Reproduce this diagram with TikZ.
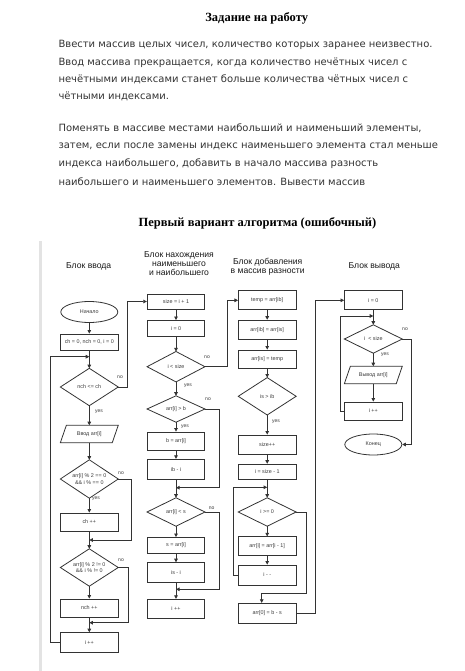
\documentclass[tikz,border=0pt]{standalone}
\usepackage{fontspec}
\setmainfont{Liberation Serif}
\newfontfamily\bodyfont{DejaVu Sans}
\newfontfamily\chartfont{Liberation Sans}
\usetikzlibrary{shapes.geometric,arrows.meta}
\definecolor{ink}{HTML}{333333}
\definecolor{txt}{HTML}{3A3A3A}
\definecolor{quote}{HTML}{E3E3E3}
\begin{document}
\begin{tikzpicture}[x=1pt,y=-1pt,
  every node/.style={inner sep=0pt},
  ln/.style={draw=ink, line width=0.8pt},
  arr/.style={ln, -{Triangle[length=3.6pt,width=3.6pt]}},
  small/.style={font=\chartfont\fontsize{5.4}{6.4}\selectfont, text=txt},
  box/.style={small, rectangle, draw=ink, line width=0.8pt, minimum width=57.5pt, align=center},
  dia/.style={small, rectangle, minimum width=57.5pt, align=center},
  para/.style={small, rectangle, minimum width=57.5pt, align=center},
  oval/.style={small, ellipse, draw=ink, line width=0.8pt, minimum width=57pt, minimum height=21pt},
  lab/.style={font=\chartfont\fontsize{5}{6}\selectfont, text=txt},
  head/.style={font=\chartfont\fontsize{8.6}{9}\selectfont, text=black!90, align=center},
  body/.style={anchor=west, font=\bodyfont\fontsize{10}{12}\selectfont, text=ink}
]
\useasboundingbox (0,0) rectangle (465,671);

% ---------- page text ----------
\node[font=\bfseries\fontsize{12.5}{14}\selectfont] (t1) at (256.7,18.3) {Задание на работу};
\node[body] (p1) at (58.3,45) {Ввести массив целых чисел, количество которых заранее неизвестно.};
\node[body] (p2) at (58.3,62.3) {Ввод массива прекращается, когда количество нечётных чисел с};
\node[body] (p3) at (58.3,79.5) {нечётными индексами станет больше количества чётных чисел с};
\node[body] (p4) at (58.3,96.7) {чётными индексами.};
\node[body] (p5) at (58.3,128.3) {Поменять в массиве местами наибольший и наименьший элементы,};
\node[body] (p6) at (58.3,146.5) {затем, если после замены индекс наименьшего элемента стал меньше};
\node[body] (p7) at (58.3,164) {индекса наибольшего, добавить в начало массива разность};
\node[body] (p8) at (58.3,181.7) {наибольшего и наименьшего элементов. Вывести массив};
\node[font=\bfseries\fontsize{12.5}{14}\selectfont] (t2) at (257.5,223.3) {Первый вариант алгоритма (ошибочный)};

\fill[quote] (39,241) rectangle (41.5,671);

% ---------- headings ----------
\node[head] (h1) at (88.7,266) {Блок ввода};
\node[head] (h2) at (179,264) {Блок нахождения\\наименьшего\\и наибольшего};
\node[head] (h3) at (267.7,267) {Блок добавления\\в массив разности};
\node[head] (h4) at (374.3,266) {Блок вывода};

% ---------- column 1 ----------
\node[oval] (start) at (89.3,312) {Начало};
\node[box, minimum height=16pt] (init) at (89.3,342) {ch = 0, nch = 0, i = 0};
\node[dia, minimum height=37pt] (d0) at (89.3,387) {nch <= ch};
\node[para, minimum height=17pt] (in) at (89.3,434) {Ввод arr[i]};
\node[dia, minimum height=38pt] (d1) at (89.3,479) {arr[i] \% 2 == 0\\\&\& i \% == 0};
\node[box, minimum height=18pt] (ch) at (89.3,522) {ch ++};
\node[dia, minimum height=37pt] (d2) at (89.3,567.5) {arr[i] \% 2 != 0\\\&\& i \% != 0};
\node[box, minimum height=18pt] (nch) at (89.3,608) {nch ++};
\node[box, minimum height=20pt] (inc1) at (89.3,642.7) {i ++};
\coordinate (jA) at (89.3,356.7);
\coordinate (jB) at (89.3,540);
\coordinate (jC) at (89.3,622.7);

% ---------- column 2 ----------
\node[box, minimum height=15pt] (size) at (176,301.5) {size = i + 1};
\node[box, minimum height=16pt] (i0) at (176,328.5) {i = 0};
\node[dia, minimum height=30pt] (d3) at (176,366.7) {i < size};
\node[dia, minimum height=26pt] (d4) at (176,409) {arr[i] > b};
\node[box, minimum height=18pt] (bb) at (176,441) {b = arr[i]};
\node[box, minimum height=20pt] (ib) at (176,469.3) {ib - i};
\node[dia, minimum height=28pt] (d5) at (176,512) {arr[i] < s};
\node[box, minimum height=16pt] (ss) at (176,545.5) {s = arr[i]};
\node[box, minimum height=20pt] (is) at (176,572.7) {is - i};
\node[box, minimum height=19pt] (inc2) at (176,608.8) {i ++};
\coordinate (jD) at (176,487.7);
\coordinate (jE) at (176,589.3);

% ---------- column 3 ----------
\node[box, minimum height=19pt] (temp) at (267.2,300.3) {temp = arr[ib]};
\node[box, minimum height=19pt] (sw1) at (267.2,329.7) {arr[ib] = arr[is]};
\node[box, minimum height=18pt] (sw2) at (267.2,359) {arr[is] = temp};
\node[dia, minimum height=37pt] (d6) at (267.2,396.3) {is > ib};
\node[box, minimum height=19pt] (sz) at (267.2,444.5) {size++};
\node[box, minimum height=15pt] (isz) at (267.2,471.7) {i = size - 1};
\node[dia, minimum height=28pt] (d7) at (267.2,512) {i >= 0};
\node[box, minimum height=19pt] (sh) at (267.2,546.3) {arr[i] = arr[i - 1]};
\node[box, minimum height=20pt] (dec) at (267.2,575) {i - -};
\node[box, minimum height=20pt] (res) at (267.2,613.3) {arr[0] = b - s};
\coordinate (jF) at (267.2,487.3);

% ---------- column 4 ----------
\node[box, minimum height=19pt] (oi0) at (373.3,300.3) {i = 0};
\node[dia, minimum height=28pt] (d8) at (373.3,339) {i \ < size};
\node[para, minimum height=17pt] (out) at (373.3,375) {Вывод arr[i]};
\node[box, minimum height=18pt] (oinc) at (373.3,411) {i ++};
\node[oval] (fin) at (373.3,444.5) {Конец};
\coordinate (jG) at (373.3,316);

% ---------- diamond and parallelogram outlines ----------
\foreach \n in {d0,d1,d2,d3,d4,d5,d6,d7,d8}
  \draw[ln] (\n.north) -- (\n.east) -- (\n.south) -- (\n.west) -- cycle;
\foreach \n in {in,out}
  \draw[ln] ([xshift=6pt]\n.north west) -- (\n.north east) -- ([xshift=-6pt]\n.south east) -- (\n.south west) -- cycle;

% ---------- connectors column 1 ----------
\draw[arr] (start) -- (init);
\draw[arr] (init) -- (d0);
\draw[arr] (d0) -- (in);
\draw[arr] (in) -- (d1);
\draw[arr] (d1) -- (ch);
\draw[arr] (ch) -- (d2);
\draw[arr] (d2) -- (nch);
\draw[arr] (nch) -- (inc1);
\draw[arr] (inc1.west) -- ++(-9.9,0) |- (jA);
\draw[arr] (d0.east) -- (127.7,387) |- (size.west);
\draw[arr] (d1.east) -- (131.7,479) |- (jB);
\draw[arr] (d2.east) -- (128.3,567.5) |- (jC);

% ---------- connectors column 2 ----------
\draw[arr] (size) -- (i0);
\draw[arr] (i0) -- (d3);
\draw[arr] (d3) -- (d4);
\draw[arr] (d4) -- (bb);
\draw[arr] (bb) -- (ib);
\draw[arr] (ib) -- (d5);
\draw[arr] (d5) -- (ss);
\draw[arr] (ss) -- (is);
\draw[arr] (is) -- (inc2);
\draw[arr] (d3.east) -- (227.3,366.7) |- (temp.west);
\draw[arr] (d4.east) -- (219.3,409) |- (jD);
\draw[arr] (d5.east) -- (219.3,512) |- (jE);

% ---------- connectors column 3 ----------
\draw[arr] (temp) -- (sw1);
\draw[arr] (sw1) -- (sw2);
\draw[arr] (sw2) -- (d6);
\draw[arr] (d6) -- (sz);
\draw[arr] (sz) -- (isz);
\draw[arr] (isz) -- (d7);
\draw[arr] (d7) -- (sh);
\draw[arr] (sh) -- (dec);
\draw[arr] (dec.west) -- ++(-5,0) |- (jF);
\draw[arr] (d7.east) -- (306,512) -- (306,593.3) -- (261.7,593.3) -- (res.north -| 261.7,0);
\draw[arr] (res.east) -- (315.7,613.3) |- (oi0.west);

% ---------- connectors column 4 ----------
\draw[arr] (oi0) -- (d8);
\draw[arr] (d8) -- (out);
\draw[arr] (out) -- (oinc);
\draw[arr] (oinc.west) -- ++(-4,0) |- (jG);
\draw[arr] (d8.east) -- (411.7,339) |- (fin.east);

% ---------- labels ----------
\node[lab] (l1) at (120,377) {no};
\node[lab] (l2) at (99,412) {yes};
\node[lab] (l3) at (121,473) {no};
\node[lab] (l4) at (96,499) {yes};
\node[lab] (l5) at (121,560) {no};
\node[lab] (l6) at (207,357) {no};
\node[lab] (l7) at (188,385.7) {yes};
\node[lab] (l8) at (208,399.3) {no};
\node[lab] (l9) at (185,426.7) {yes};
\node[lab] (l10) at (211.7,508.3) {no};
\node[lab] (l11) at (276,421.7) {yes};
\node[lab] (l12) at (405,329.3) {no};
\node[lab] (l13) at (385,355) {yes};
\end{tikzpicture}
\end{document}
